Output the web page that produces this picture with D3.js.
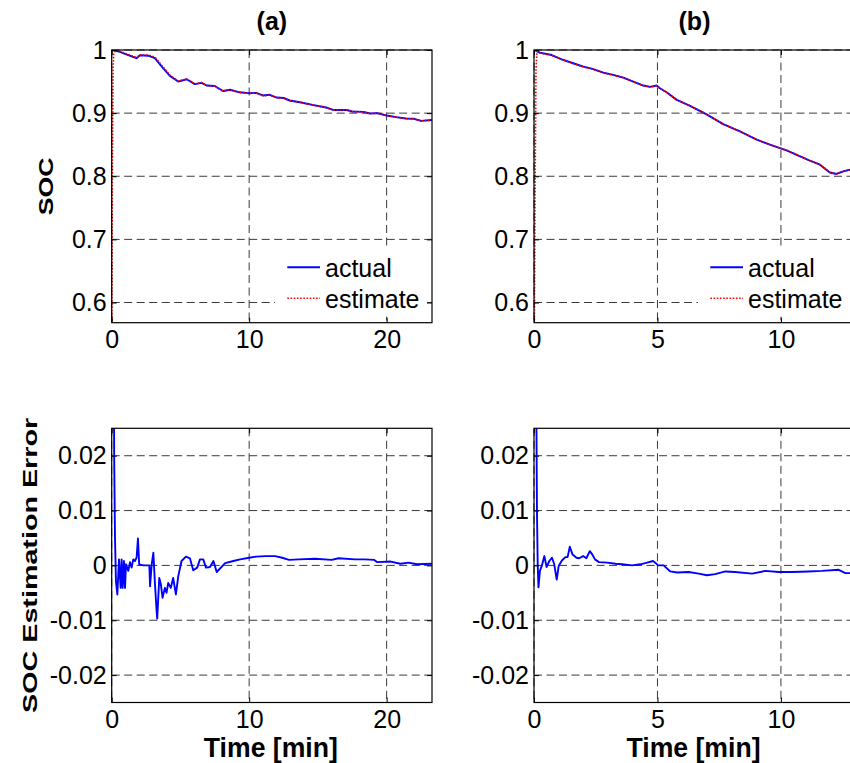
<!DOCTYPE html>
<html>
<head>
<meta charset="utf-8">
<script src="https://cdn.jsdelivr.net/npm/d3@7"></script>
<style>
  body { margin: 0; background: #fff; }
  svg { display: block; }
  text { font-family: Arial, "Liberation Sans", Helvetica, sans-serif; fill: #000; }
</style>
</head>
<body>
<svg id="fig" width="850" height="763"></svg>
<script>
// ---- Test (a): SOC, actual vs. estimate ----
const timeActualA = [0, 0.6, 1.2, 1.8, 2.06, 2.66, 3.14, 3.63, 4.23, 4.84, 5.45, 6.05, 6.54, 6.9, 7.5, 8.1, 8.6, 9.3, 9.97, 10.5, 11.0, 11.5, 12.0, 12.5, 12.95, 13.7, 14.6, 15.6, 16.1, 17.1, 17.5, 18.3, 18.8, 19.3, 20.0, 20.7, 21.4, 22.0, 22.5, 23.3];
const socActualA = [1.0, 0.997, 0.992, 0.987, 0.9916, 0.991, 0.987, 0.974, 0.959, 0.950, 0.9537, 0.946, 0.948, 0.9437, 0.943, 0.935, 0.937, 0.933, 0.9316, 0.9321, 0.928, 0.929, 0.9247, 0.924, 0.920, 0.9173, 0.913, 0.9089, 0.905, 0.905, 0.9026, 0.902, 0.8994, 0.900, 0.8962, 0.8936, 0.8915, 0.891, 0.8878, 0.889];
const timeEstA = [0, 0.05, 0.1, 0.15, 0.3, 0.6, 1.2, 1.8, 2.06, 2.66, 3.14, 3.63, 4.23, 4.84, 5.45, 6.05, 6.54, 6.9, 7.5, 8.1, 8.6, 9.3, 9.97, 10.5, 11.0, 11.5, 12.0, 12.5, 12.95, 13.7, 14.6, 15.6, 16.1, 17.1, 17.5, 18.3, 18.8, 19.3, 20.0, 20.7, 21.4, 22.0, 22.5, 23.3];
const socEstA = [0.50, 0.80, 0.97, 0.995, 1.0, 0.998, 0.993, 0.988, 0.992, 0.992, 0.989, 0.976, 0.960, 0.951, 0.954, 0.9465, 0.9485, 0.944, 0.9425, 0.9345, 0.9368, 0.9325, 0.931, 0.932, 0.9275, 0.9285, 0.9245, 0.9235, 0.9195, 0.917, 0.9128, 0.9088, 0.9048, 0.905, 0.9025, 0.9018, 0.8992, 0.8998, 0.896, 0.8935, 0.8913, 0.891, 0.8877, 0.8888];

// ---- Test (b): SOC, actual vs. estimate ----
const timeActualB = [0, 0.24, 0.72, 1.12, 1.59, 2.0, 2.34, 2.81, 3.21, 3.62, 4.02, 4.43, 4.7, 4.97, 5.1, 5.37, 5.78, 6.32, 6.99, 7.66, 8.34, 9.02, 9.55, 9.96, 10.23, 10.64, 11.17, 11.58, 11.98, 12.25, 12.52, 12.8, 13.0];
const socActualB = [1.0, 0.9958, 0.992, 0.9853, 0.979, 0.9737, 0.9705, 0.9642, 0.9605, 0.9563, 0.950, 0.9437, 0.9415, 0.9437, 0.9395, 0.933, 0.921, 0.9115, 0.898, 0.8826, 0.871, 0.858, 0.850, 0.8447, 0.841, 0.834, 0.8246, 0.8183, 0.806, 0.8036, 0.8077, 0.8104, 0.811];
const timeEstB = [0, 0.04, 0.08, 0.12, 0.24, 0.72, 1.12, 1.59, 2.0, 2.34, 2.81, 3.21, 3.62, 4.02, 4.43, 4.7, 4.97, 5.1, 5.37, 5.78, 6.32, 6.99, 7.66, 8.34, 9.02, 9.55, 9.96, 10.23, 10.64, 11.17, 11.58, 11.98, 12.25, 12.52, 12.8, 13.0];
const socEstB = [0.45, 0.75, 0.97, 0.998, 0.995, 0.9915, 0.985, 0.9785, 0.973, 0.970, 0.9635, 0.960, 0.956, 0.9495, 0.9435, 0.9412, 0.9432, 0.9392, 0.9328, 0.9212, 0.9118, 0.8983, 0.8828, 0.8712, 0.8582, 0.8503, 0.8448, 0.8412, 0.8342, 0.8248, 0.8185, 0.8062, 0.8038, 0.8078, 0.8106, 0.8112];

// ---- Estimation error ----
const timeErrA = [0, 0.1, 0.18, 0.24, 0.31, 0.41, 0.53, 0.65, 0.72, 0.80, 0.89, 0.97, 1.04, 1.21, 1.33, 1.45, 1.57, 1.69, 1.81, 1.91, 2.0, 2.3, 2.74, 2.79, 2.91, 3.03, 3.15, 3.27, 3.31, 3.46, 3.58, 3.7, 3.87, 3.99, 4.11, 4.3, 4.47, 4.67, 4.84, 5.08, 5.4, 5.69, 5.93, 6.22, 6.42, 6.66, 6.86, 7.15, 7.4, 7.64, 8.25, 8.85, 9.34, 10.0, 10.5, 11.2, 11.9, 12.4, 12.9, 13.6, 14.8, 16.0, 16.5, 17.7, 18.4, 19.1, 19.3, 20.3, 21.0, 21.6, 22.2, 23.3];
const errA = [0.4, 0.08, 0.02, 0.005, -0.0029, -0.0053, 0.0011, -0.0041, 0.0011, -0.0041, 0.0008, -0.0041, 0.0002, -0.001, 0.0006, -0.0004, 0.0011, 0.0008, 0.0014, 0.0049, 0.0002, 0.0, 0.0, -0.0038, 0.0002, 0.0023, -0.0035, -0.0084, -0.0097, -0.0023, -0.0035, -0.0059, -0.0041, -0.005, -0.0032, -0.0041, -0.0023, -0.0053, -0.002, 0.0008, 0.0016, 0.0013, -0.0009, -0.0004, 0.0011, 0.0011, -0.0004, -0.0003, 0.0008, -0.0012, 0.0004, 0.0008, 0.0011, 0.0014, 0.0016, 0.0017, 0.0017, 0.0014, 0.001, 0.0011, 0.0012, 0.001, 0.0013, 0.0011, 0.0011, 0.001, 0.0006, 0.0007, 0.0003, 0.0005, 0.0002, 0.0003];
const timeErrB = [0, 0.08, 0.12, 0.15, 0.18, 0.24, 0.32, 0.42, 0.51, 0.62, 0.73, 0.82, 0.92, 1.0, 1.13, 1.27, 1.36, 1.45, 1.56, 1.72, 1.83, 1.99, 2.12, 2.26, 2.36, 2.47, 2.63, 2.97, 3.3, 3.57, 3.97, 4.31, 4.58, 4.82, 4.91, 5.02, 5.25, 5.52, 5.79, 6.26, 6.67, 7.0, 7.34, 7.75, 8.15, 8.83, 9.37, 9.91, 10.45, 11.12, 11.66, 12.34, 12.61, 12.75, 13.0];
const errB = [0.4, 0.04, 0.01, 0.0002, -0.004, -0.001, 0.0, 0.0017, -0.0003, 0.0008, 0.0014, 0.0002, -0.0026, -0.0001, 0.0009, 0.0015, 0.0015, 0.0034, 0.002, 0.0014, 0.0013, 0.0017, 0.0013, 0.0026, 0.002, 0.0011, 0.0006, 0.0005, 0.0003, 0.0002, 0.0, 0.0002, 0.0005, 0.0008, 0.0005, 0.0, 0.0, -0.0011, -0.0013, -0.0012, -0.0015, -0.0018, -0.0016, -0.0011, -0.0012, -0.0015, -0.001, -0.0012, -0.0012, -0.0011, -0.001, -0.0008, -0.0014, -0.0014, -0.0014];

// ---- Axis ticks and labels ----
const xTicksA = [0, 10, 20];
const xTicksB = [0, 5, 10];
const socTicks = [0.6, 0.7, 0.8, 0.9, 1];
const socTickLabels = ["0.6", "0.7", "0.8", "0.9", "1"];
const errTicks = [-0.02, -0.01, 0, 0.01, 0.02];
const errTickLabels = ["-0.02", "-0.01", "0", "0.01", "0.02"];
const panelTitles = ["(a)", "(b)"];
const legendLabels = ["actual", "estimate"];
const xLabel = "Time [min]";
const yLabelTop = "SOC";
const yLabelBottom = "SOC Estimation Error";

const zip = (xs, ys) => xs.map((x, i) => [x, ys[i]]);

const svg = d3.select("#fig");

// layout of the four axes boxes
const colX = [[111.7, 432], [534, 855]];
const rowY = [[50, 322.7], [428.3, 702.5]];

const styles = {
  actual:   { stroke: "#0000ff", width: 1.9, dash: null },
  estimate: { stroke: "#ff0000", width: 1.6, dash: "1.6,1.6" }
};

const panels = [
  { col: 0, row: 0, xDom: [0, 23.3], yDom: [0.568, 1], xTicks: xTicksA, yTicks: socTicks, yLabels: socTickLabels,
    series: [{ key: "actual", pts: zip(timeActualA, socActualA) }, { key: "estimate", pts: zip(timeEstA, socEstA) }],
    title: panelTitles[0], ylabel: yLabelTop, ylabelX: 53, ylabelLen: 58, legend: true },
  { col: 1, row: 0, xDom: [0, 13], yDom: [0.568, 1], xTicks: xTicksB, yTicks: socTicks, yLabels: socTickLabels,
    series: [{ key: "actual", pts: zip(timeActualB, socActualB) }, { key: "estimate", pts: zip(timeEstB, socEstB) }],
    title: panelTitles[1], legend: true },
  { col: 0, row: 1, xDom: [0, 23.3], yDom: [-0.025, 0.025], xTicks: xTicksA, yTicks: errTicks, yLabels: errTickLabels,
    series: [{ key: "actual", pts: zip(timeErrA, errA) }],
    xlabel: xLabel, ylabel: yLabelBottom, ylabelX: 37, ylabelLen: 295 },
  { col: 1, row: 1, xDom: [0, 13], yDom: [-0.025, 0.025], xTicks: xTicksB, yTicks: errTicks, yLabels: errTickLabels,
    series: [{ key: "actual", pts: zip(timeErrB, errB) }],
    xlabel: xLabel }
];

panels.forEach((p, i) => {
  const [x0, x1] = colX[p.col];
  const [y0, y1] = rowY[p.row];
  const x = d3.scaleLinear().domain(p.xDom).range([x0, x1]);
  const y = d3.scaleLinear().domain(p.yDom).range([y1, y0]);
  const g = svg.append("g");

  const clipId = "clip" + i;
  svg.append("defs").append("clipPath").attr("id", clipId)
    .append("rect").attr("x", x0).attr("y", y0).attr("width", x1 - x0).attr("height", y1 - y0);

  // dashed grid
  const grid = g.append("g").attr("stroke", "#3a3a3a").attr("stroke-width", 1)
    .attr("stroke-dasharray", "8,4.5").attr("fill", "none");
  grid.selectAll("line.gx").data(p.xTicks).join("line")
    .attr("x1", d => x(d)).attr("x2", d => x(d)).attr("y1", y0).attr("y2", y1);
  grid.selectAll("line.gy").data(p.yTicks).join("line")
    .attr("x1", x0).attr("x2", x1).attr("y1", d => y(d)).attr("y2", d => y(d));

  // data lines
  const line = d3.line().x(d => x(d[0])).y(d => y(d[1]));
  const dataG = g.append("g").attr("clip-path", `url(#${clipId})`);
  p.series.forEach(s => {
    const st = styles[s.key];
    dataG.append("path").datum(s.pts).attr("d", line)
      .attr("fill", "none").attr("stroke", st.stroke).attr("stroke-width", st.width)
      .attr("stroke-linejoin", "round")
      .attr("stroke-dasharray", st.dash);
  });

  // legend
  if (p.legend) {
    const lg = g.append("g");
    lg.append("rect").attr("x", x1 - 157).attr("y", y1 - 75).attr("width", 152).attr("height", 69)
      .attr("fill", "#fff");
    legendLabels.forEach((lab, k) => {
      const st = styles[lab];
      const ly = y1 - 55.4 + k * 31;
      lg.append("line").attr("x1", x1 - 144.7).attr("x2", x1 - 112).attr("y1", ly).attr("y2", ly)
        .attr("stroke", st.stroke).attr("stroke-width", st.width).attr("stroke-dasharray", st.dash);
      lg.append("text").attr("x", x1 - 107).attr("y", ly + 10).attr("font-size", 25).text(lab);
    });
  }

  // axes with inward ticks
  const yAxis = d3.axisLeft(y).tickValues(p.yTicks).tickFormat((d, k) => p.yLabels[k])
    .tickSizeInner(-5).tickSizeOuter(0).tickPadding(5);
  const xAxis = d3.axisBottom(x).tickValues(p.xTicks).tickFormat(d => String(d))
    .tickSizeInner(-5).tickSizeOuter(0).tickPadding(8);
  const ya = g.append("g").attr("transform", `translate(${x0},0)`).call(yAxis);
  const xa = g.append("g").attr("transform", `translate(0,${y1})`).call(xAxis);
  g.append("g").attr("transform", `translate(${x1},0)`)
    .call(d3.axisRight(y).tickValues(p.yTicks).tickFormat("").tickSizeInner(-5).tickSizeOuter(0));
  g.append("g").attr("transform", `translate(0,${y0})`)
    .call(d3.axisTop(x).tickValues(p.xTicks).tickFormat("").tickSizeInner(-5).tickSizeOuter(0));
  [ya, xa].forEach(a => a.selectAll("text").attr("font-size", 25).attr("font-family", "Arial, 'Liberation Sans', sans-serif").attr("fill", "#000"));
  g.selectAll(".domain").remove();
  g.selectAll(".tick line").attr("stroke", "#000").attr("stroke-width", 1);

  // axes box
  g.append("rect").attr("x", x0).attr("y", y0).attr("width", x1 - x0).attr("height", y1 - y0)
    .attr("fill", "none").attr("stroke", "#000").attr("stroke-width", 1.2);

  if (p.title) {
    g.append("text").attr("x", (x0 + x1) / 2).attr("y", 30).attr("text-anchor", "middle")
      .attr("font-size", 25).attr("font-weight", "bold").text(p.title);
  }
  if (p.xlabel) {
    g.append("text").attr("x", (x0 + x1) / 2 - 1).attr("y", y1 + 54).attr("text-anchor", "middle")
      .attr("font-size", 28).attr("font-weight", "bold")
      .attr("textLength", 134).attr("lengthAdjust", "spacingAndGlyphs").text(p.xlabel);
  }
  if (p.ylabel) {
    const cy = (y0 + y1) / 2;
    g.append("text").attr("transform", `translate(${p.ylabelX},${cy}) rotate(-90)`).attr("text-anchor", "middle")
      .attr("font-size", 21).attr("font-weight", "bold")
      .attr("textLength", p.ylabelLen).attr("lengthAdjust", "spacingAndGlyphs").text(p.ylabel);
  }
});
</script>
</body>
</html>
